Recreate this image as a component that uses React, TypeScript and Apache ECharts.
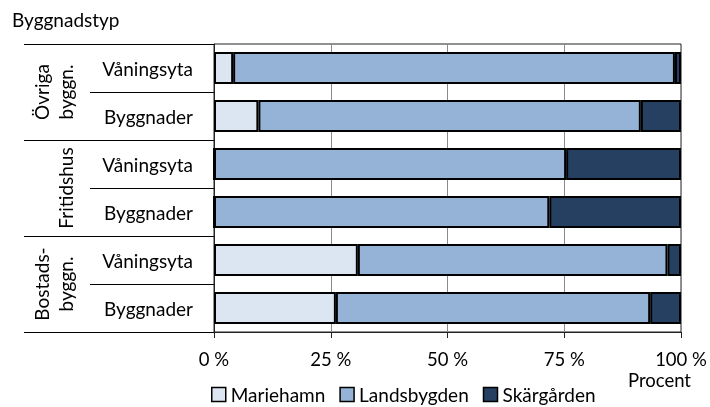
import React, { useEffect, useRef } from "react";
import * as echarts from "echarts";

const rowLabels = ["Våningsyta", "Byggnader", "Våningsyta", "Byggnader", "Våningsyta", "Byggnader"];
const groupLabels = ["Övriga\nbyggn.", "\nFritidshus", "Bostads-\nbyggn."];
const seriesNames = ["Mariehamn", "Landsbygden", "Skärgården"];
const mariehamn = [4.1, 9.5, 0, 0, 30.8, 26.1];
const landsbygden = [94.6, 81.9, 75.4, 71.8, 66.3, 67.3];
const skargarden = [1.3, 8.6, 24.6, 28.2, 2.9, 6.6];
const xTicks = [0, 25, 50, 75, 100];
const colors = ["#dce6f2", "#95b3d7", "#254061"];

const FONT = "Lato, 'Open Sans', sans-serif";

export default function App() {
  const ref = useRef<HTMLDivElement>(null);
  useEffect(() => {
    if (!ref.current) return;
    const chart = echarts.init(ref.current, null, { renderer: "svg" });
    const values = [mariehamn, landsbygden, skargarden];
    chart.setOption({
      animation: false,
      textStyle: { fontFamily: FONT, color: "#000" },
      grid: { left: 214, right: 29, top: 44, bottom: 75, show: true, borderColor: "#222", borderWidth: 1, outerBoundsMode: "none", containLabel: false },
      title: {
        text: "Byggnadstyp",
        left: 12,
        top: 10,
        padding: 0,
        textStyle: { fontFamily: FONT, fontSize: 19, fontWeight: "normal", color: "#000" },
      },
      graphic: [
        {
          type: "text",
          x: 691,
          y: 380,
          style: { text: "Procent", fontFamily: FONT, fontSize: 18.5, fill: "#000", textAlign: "right", textVerticalAlign: "middle" },
        },
      ],
      legend: {
        top: 385,
        left: 211,
        padding: 0,
        icon: "rect",
        itemWidth: 14,
        itemHeight: 14,
        itemGap: 14,
        data: seriesNames,
        textStyle: { fontFamily: FONT, fontSize: 19, color: "#000" },
        itemStyle: { borderColor: "#000", borderWidth: 1.5 },
      },
      xAxis: {
        type: "value",
        min: xTicks[0],
        max: xTicks[xTicks.length - 1],
        interval: 25,
        axisLine: { show: true, lineStyle: { color: "#222", width: 1 } },
        axisTick: { show: true, length: 6, lineStyle: { color: "#222" } },
        axisLabel: { formatter: "{value} %", fontFamily: FONT, fontSize: 18.5, color: "#000", margin: 17 },
        splitLine: { show: true, lineStyle: { color: "#8a8a8a", width: 1 } },
      },
      yAxis: [
        {
          type: "category",
          inverse: true,
          data: rowLabels,
          axisLine: { show: true, lineStyle: { color: "#222", width: 1 } },
          axisTick: { show: true, length: 124, interval: 0, lineStyle: { color: "#000", width: 1 } },
          axisLabel: { fontFamily: FONT, fontSize: 19, color: "#000", margin: 21, interval: 0 },
        },
        {
          type: "category",
          inverse: true,
          position: "left",
          data: groupLabels,
          axisLine: { show: false },
          axisTick: { show: true, length: 190, interval: 0, lineStyle: { color: "#000", width: 1 } },
          axisLabel: {
            rotate: 90,
            fontFamily: FONT,
            fontSize: 19,
            lineHeight: 24,
            color: "#000",
            margin: 137,
            interval: 0,
            align: "center",
          },
        },
      ],
      series: seriesNames.map((name, i) => ({
        name,
        type: "bar",
        stack: "total",
        yAxisIndex: 0,
        barCategoryGap: "33%",
        data: values[i],
        itemStyle: { color: colors[i], borderColor: "#000", borderWidth: 2 },
      })),
    });
    return () => chart.dispose();
  }, []);
  return <div ref={ref} style={{ position: "fixed", left: 0, top: 0, width: 710, height: 407 }} />;
}
